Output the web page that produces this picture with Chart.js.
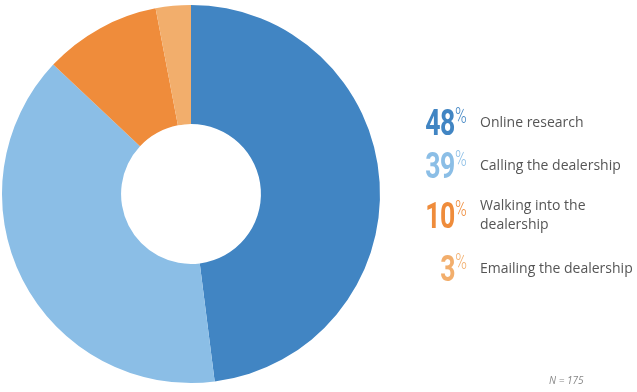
<!DOCTYPE html>
<html>
<head>
<meta charset="utf-8">
<script src="https://cdn.jsdelivr.net/npm/chart.js@4/dist/chart.umd.min.js"></script>
<style>
    body { margin: 0; background: #fff; }
    #wrap { position: relative; width: 637px; height: 392px; overflow: hidden; }
    #grafico { position: absolute; left: 0; top: 0; }
    .linha { position: absolute; left: 380px; width: 257px; height: 40px; }
    .num { position: absolute; right: 170px; top: 0; white-space: nowrap; transform: scaleX(0.72); transform-origin: right center; font-family: Roboto, sans-serif; line-height: 1; }
    .num b { font-size: 37px; font-weight: bold; letter-spacing: -0.5px; }
    .num span { font-size: 22px; font-weight: 300; vertical-align: 12px; }
    .txt { position: absolute; left: 100px; top: -3px; height: 40px; display: flex; align-items: center; font-family: "Open Sans", sans-serif; font-size: 14px; color: #555; line-height: 19px; }
    #n { position: absolute; left: 549px; top: 373px; font-family: "Open Sans", sans-serif; font-size: 10px; font-style: italic; color: #888; }
</style>
</head>
<body>
<div id="wrap">
    <canvas id="grafico" width="637" height="392"></canvas>
    <div id="legenda"></div>
    <div id="n">N = 175</div>
</div>
<script>
const categorias = ["Online research", "Calling the dealership", "Walking into the dealership", "Emailing the dealership"];
const rotulos = [["Online research"], ["Calling the dealership"], ["Walking into the", "dealership"], ["Emailing the dealership"]];
const valores = [48, 39, 10, 3];
const cores = ["#4185c3", "#8bbee6", "#ef8c3b", "#f2ae6c"];
const topos = [104, 147, 197, 250];

const legenda = document.getElementById("legenda");
for (let i = 0; i < categorias.length; i++) {
    const linha = document.createElement("div");
    linha.className = "linha";
    linha.style.top = topos[i] + "px";
    const num = document.createElement("div");
    num.className = "num";
    num.style.color = cores[i];
    num.innerHTML = "<b>" + valores[i] + "</b><span>%</span>";
    const txt = document.createElement("div");
    txt.className = "txt";
    txt.innerHTML = rotulos[i].join("<br>");
    linha.appendChild(num);
    linha.appendChild(txt);
    legenda.appendChild(linha);
}

const ctx = document.getElementById("grafico").getContext("2d");
new Chart(ctx, {
    type: "doughnut",
    data: {
        labels: categorias,
        datasets: [
            {
                data: valores,
                backgroundColor: cores,
                borderWidth: 0,
            },
        ],
    },
    options: {
        responsive: false,
        animation: false,
        cutout: "37%",
        layout: { padding: { left: 2, right: 257, top: 5, bottom: 9 } },
        plugins: {
            legend: { display: false },
            tooltip: { enabled: false },
        },
    },
});
</script>
</body>
</html>
